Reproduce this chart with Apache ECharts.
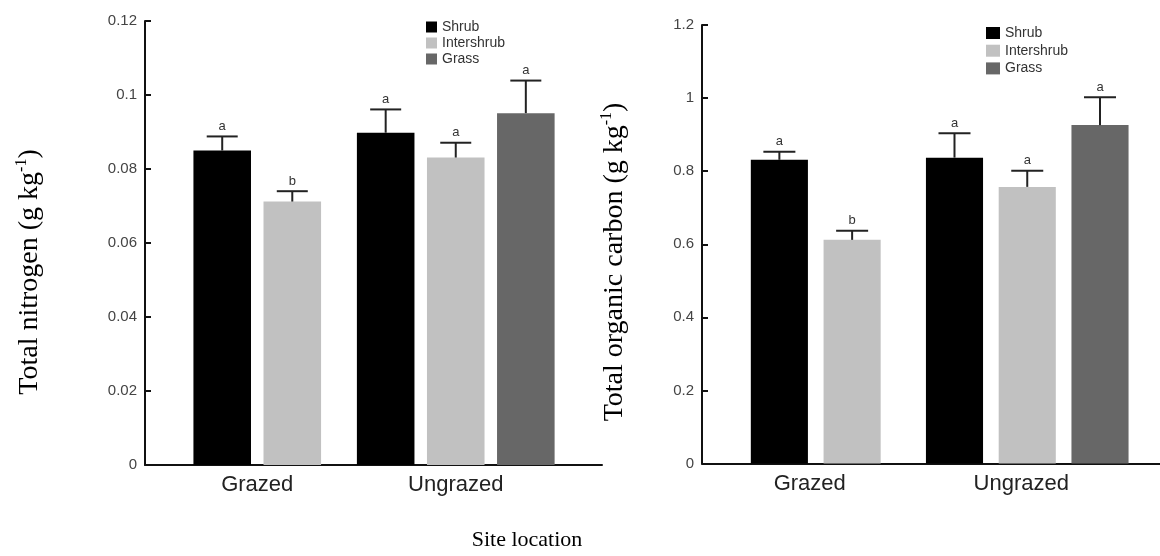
<!DOCTYPE html>
<html>
<head>
<meta charset="utf-8">
<script src="https://cdn.jsdelivr.net/npm/echarts@6/dist/echarts.min.js"></script>
<style>
html,body{margin:0;padding:0;background:#fff;}
#c{width:1160px;height:556px;}
</style>
</head>
<body>
<div id="c"></div>
<script>
// ---- data ----
const categories = ['Grazed', 'Ungrazed'];
const seriesNames = ['Shrub', 'Intershrub', 'Grass'];

const nitrogenShrub = [0.085, 0.0898];
const nitrogenInter = [0.0712, 0.0831];
const nitrogenGrass = [null, 0.0951];
const nitrogenShrubErr = [0.0038, 0.0063];
const nitrogenInterErr = [0.0028, 0.0040];
const nitrogenGrassErr = [null, 0.0088];

const carbonShrub = [0.831, 0.837];
const carbonInter = [0.612, 0.757];
const carbonGrass = [null, 0.926];
const carbonShrubErr = [0.022, 0.067];
const carbonInterErr = [0.025, 0.044];
const carbonGrassErr = [null, 0.076];

const lettersShrub = ['a', 'a'];
const lettersInter = ['b', 'a'];
const lettersGrass = [null, 'a'];

const nitrogenTicks = [0, 0.02, 0.04, 0.06, 0.08, 0.1, 0.12];
const carbonTicks = [0, 0.2, 0.4, 0.6, 0.8, 1, 1.2];

// ---- styling ----
const colors = ['#000000', '#c1c1c1', '#676767'];
const sans = '"Liberation Sans", Arial, sans-serif';
const serif = '"Liberation Serif", "Times New Roman", serif';

const chart = echarts.init(document.getElementById('c'));

function makeSeries(chartIdx, valuesList, errList, lettersList, barFrac, pitchFrac, capW) {
  return valuesList.map((vals, s) => {
    const data = categories.map((c, i) => vals[i] == null ? null : [i, vals[i], errList[s][i]]).filter(Boolean);
    return {
      type: 'custom',
      name: seriesNames[s],
      xAxisIndex: chartIdx * 2 + 1,
      yAxisIndex: chartIdx * 2 + 1,
      itemStyle: { color: colors[s] },
      data: data,
      z: 5,
      renderItem: function (params, api) {
        const ci = api.value(0);
        const v = api.value(1);
        const e = api.value(2);
        const present = valuesList.map((vl, k) => vl[ci] == null ? -1 : k).filter(k => k >= 0);
        const k = present.indexOf(s);
        const n = present.length;
        const base = api.coord([ci, 0]);
        const band = api.size([1, 0])[0];
        const pitch = band * pitchFrac, bw = band * barFrac;
        const cx = base[0] + (k - (n - 1) / 2) * pitch;
        const top = api.coord([ci, v])[1];
        const errTop = api.coord([ci, v + e])[1];
        const letter = lettersList[s][ci];
        return {
          type: 'group',
          children: [
            { type: 'rect', shape: { x: cx - bw / 2, y: top, width: bw, height: base[1] - top }, style: { fill: colors[s] } },
            { type: 'line', shape: { x1: cx, y1: top, x2: cx, y2: errTop }, style: { stroke: '#222', lineWidth: 2 } },
            { type: 'line', shape: { x1: cx - capW / 2, y1: errTop, x2: cx + capW / 2, y2: errTop }, style: { stroke: '#222', lineWidth: 2 } },
            { type: 'text', x: cx, y: errTop - 10, style: { text: letter || '', fill: '#333', font: '13px ' + sans, align: 'center', verticalAlign: 'middle' } }
          ]
        };
      }
    };
  });
}

const lettersList = [lettersShrub, lettersInter, lettersGrass];

const gridDefs = [
  { left: 145, top: 21, width: 457, height: 444 },   // N axes frame
  { left: 158, top: 21, width: 397, height: 444 },   // N bars
  { left: 702, top: 25, width: 458, height: 438.5 }, // C axes frame
  { left: 710, top: 25, width: 423, height: 438.5 }  // C bars
];

function frameY(gridIndex, ticks) {
  return {
    type: 'value', gridIndex: gridIndex,
    min: ticks[0], max: ticks[ticks.length - 1], interval: ticks[1] - ticks[0],
    axisLine: { show: true, lineStyle: { color: '#111', width: 2 } },
    axisTick: { show: true, inside: true, length: 6, lineStyle: { color: '#111', width: 2 } },
    axisLabel: { color: '#444', fontSize: 15, fontFamily: sans, margin: 8 },
    splitLine: { show: false }
  };
}
function hiddenY(gridIndex, ticks) {
  return { type: 'value', gridIndex: gridIndex, min: ticks[0], max: ticks[ticks.length - 1], show: false, splitLine: { show: false } };
}
function frameX(gridIndex) {
  return {
    type: 'value', gridIndex: gridIndex, min: 0, max: 1,
    axisLine: { show: true, onZero: false, lineStyle: { color: '#111', width: 2 } },
    axisTick: { show: false }, axisLabel: { show: false }, splitLine: { show: false }
  };
}
function catX(gridIndex, pad) {
  return {
    type: 'category', gridIndex: gridIndex, data: categories,
    axisLine: { show: false }, axisTick: { show: false },
    axisLabel: { color: '#222', fontSize: 22, fontFamily: sans, margin: 9, padding: pad }
  };
}

const yName = (t) => ({
  text: '{a|' + t + ' (g kg}{s|-1}{a|)}', align: 'center', verticalAlign: 'middle', fill: '#000',
  rich: { a: { fontSize: 28, fontFamily: serif, fill: '#000', lineHeight: 32 },
          s: { fontSize: 16, fontFamily: serif, fill: '#000', verticalAlign: 'top', lineHeight: 32 } }
});

const option = {
  backgroundColor: '#fff',
  animation: false,
  grid: gridDefs,
  xAxis: [frameX(0), catX(1, [0, 0, 0, 0]), frameX(2), catX(3, [0, 12, 0, 0])],
  yAxis: [frameY(0, nitrogenTicks), hiddenY(1, nitrogenTicks), frameY(2, carbonTicks), hiddenY(3, carbonTicks)],
  legend: [
    { orient: 'vertical', left: 426, top: 20, padding: 0, itemWidth: 11, itemHeight: 11, itemGap: 2, icon: 'rect',
      itemStyle: { borderWidth: 0 },
      textStyle: { fontSize: 14, fontFamily: sans, color: '#333', lineHeight: 11 }, data: seriesNames },
    { orient: 'vertical', left: 986, top: 26, padding: 0, itemWidth: 14, itemHeight: 12, itemGap: 3.7, icon: 'rect',
      itemStyle: { borderWidth: 0 },
      textStyle: { fontSize: 14, fontFamily: sans, color: '#333', lineHeight: 12 }, data: seriesNames }
  ],
  graphic: [
    { type: 'text', x: 30, y: 272, rotation: Math.PI / 2, style: yName('Total nitrogen') },
    { type: 'text', x: 615, y: 262, rotation: Math.PI / 2, style: yName('Total organic carbon') },
    { type: 'text', x: 527, y: 540,
      style: { text: 'Site location', font: '22px ' + serif, fill: '#000', align: 'center', verticalAlign: 'middle' } }
  ],
  series: [].concat(
    makeSeries(0, [nitrogenShrub, nitrogenInter, nitrogenGrass], [nitrogenShrubErr, nitrogenInterErr, nitrogenGrassErr], lettersList, 0.29, 0.353, 31),
    makeSeries(1, [carbonShrub, carbonInter, carbonGrass], [carbonShrubErr, carbonInterErr, carbonGrassErr], lettersList, 0.27, 0.344, 32)
  )
};
chart.setOption(option);
</script>
</body>
</html>
